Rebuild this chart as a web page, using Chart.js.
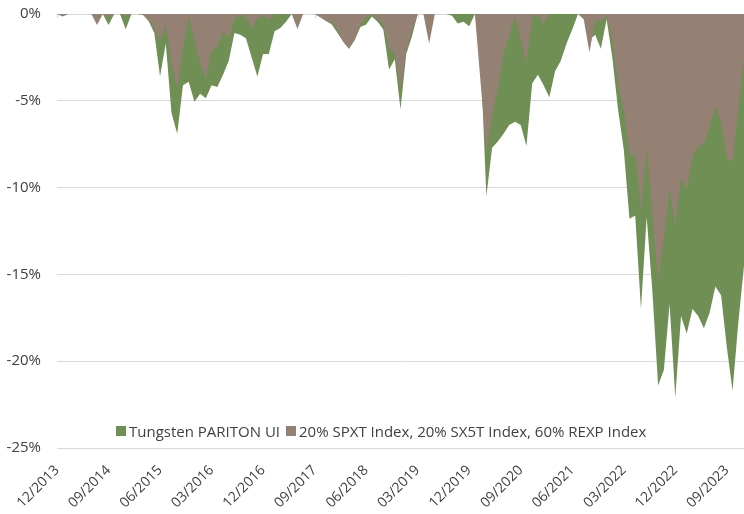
<!DOCTYPE html>
<html>
<head>
<meta charset="utf-8">
<script src="https://cdn.jsdelivr.net/npm/chart.js@4.4.0/dist/chart.umd.min.js"></script>
<style>
  html, body { margin: 0; padding: 0; background: #fff; }
  #wrap { position: relative; width: 744px; height: 514px; }
  #legend {
    position: absolute; left: 116px; top: 421px;
    display: flex; align-items: center;
    font: 15px "Open Sans", sans-serif; color: #404040; white-space: nowrap;
  }
  .item { display: flex; align-items: center; margin-right: 6px; }
  .swatch { width: 10px; height: 10px; margin-right: 3px; }
</style>
</head>
<body>
<div id="wrap">
  <canvas id="chart" width="744" height="514"></canvas>
  <div id="legend"></div>
</div>
<script>
// drawdown in %, monthly from 12/2013
const pariton = [
  0, -0.05, 0, 0, 0, 0, 0, -0.2, 0, -0.63, 0, 0,
  -0.88, 0, 0, -0.05, -0.4, -1.1, -3.6, -1.7, -5.7, -6.9, -4.1, -3.9,
  -5.05, -4.6, -4.85, -4.1, -4.2, -3.5, -2.7, -1.1, -1.2, -1.4, -2.5, -3.6,
  -2.3, -2.3, -1.0, -0.8, -0.45, 0, -0.3, 0, 0, 0, -0.1, -0.4,
  -0.6, -1.1, -1.6, -2.0, -1.5, -0.75, -0.6, -0.15, -0.45, -0.9, -3.2, -2.6,
  -5.5, -2.3, -1.3, 0, 0, -0.3, 0, 0, 0, -0.1, -0.55, -0.45,
  -0.7, 0, -2.5, -10.5, -7.7, -7.35, -6.9, -6.4, -6.2, -6.4, -7.6, -4.0,
  -3.5, -4.1, -4.8, -3.3, -2.7, -1.7, -0.9, 0, 0, -1.5, -1.2, -2.0,
  -0.3, -2.5, -5.5, -7.8, -11.8, -11.6, -17.0, -11.7, -16.0, -21.4, -20.5, -16.7,
  -22.1, -17.4, -18.4, -17.0, -17.4, -18.1, -17.2, -15.7, -16.2, -19.2, -21.7, -17.8,
  -14.5
];
const benchmark = [
  0, -0.15, 0, 0, 0, 0, 0, -0.63, 0, -0.2, 0, 0,
  -0.1, 0, 0, -0.05, -0.3, -0.8, -1.6, -0.6, -2.8, -4.3, -2.0, -0.1,
  -1.5, -2.8, -3.7, -2.1, -1.9, -1.0, -1.4, -0.3, 0, -0.2, -0.8, -0.2,
  -0.1, -0.35, 0, 0, 0, 0, -0.86, 0, 0, 0, -0.2, -0.4,
  -0.5, -0.9, -1.6, -2.0, -1.5, -0.6, -0.2, 0, -0.3, -0.6, -2.0, -2.2,
  -4.3, -2.0, -1.0, 0, 0, -1.7, 0, 0, 0, 0, 0, 0,
  0, 0, -4.0, -7.9, -5.8, -4.3, -2.3, -1.2, -0.15, -1.4, -2.8, -0.2,
  0, -0.6, 0, 0, 0, 0, 0, 0, -0.3, -2.2, -0.4, -0.4,
  -0.1, -1.5, -4.0, -5.5, -8.1, -8.1, -11.3, -7.6, -11.5, -15.3, -13.0, -10.0,
  -12.25, -9.4, -10.1, -8.2, -7.6, -7.5, -6.5, -5.3, -6.3, -8.3, -8.5, -5.5,
  -2.6
];
const seriesNames = ['Tungsten PARITON UI', '20% SPXT Index, 20% SX5T Index, 60% REXP Index'];
const seriesColors = ['#6f8f54', '#958174'];
const tickLabels = ['12/2013', '09/2014', '06/2015', '03/2016', '12/2016', '09/2017', '06/2018',
  '03/2019', '12/2019', '09/2020', '06/2021', '03/2022', '12/2022', '09/2023'];

// month categories MM/YYYY
const months = [];
for (let i = 0; i < pariton.length; i++) {
  const m = (11 + i) % 12 + 1;
  const y = 2013 + Math.floor((11 + i) / 12);
  months.push(String(m).padStart(2, '0') + '/' + y);
}

// small tick marks hanging from the 0% line
const topTicks = {
  id: 'topTicks',
  beforeDatasetsDraw(chart) {
    const { ctx, chartArea, scales } = chart;
    ctx.save();
    ctx.strokeStyle = '#d9d9d9';
    ctx.lineWidth = 1;
    months.forEach((m, i) => {
      if (!tickLabels.includes(m)) return;
      const px = Math.round(scales.x.getPixelForValue(i)) + 0.5;
      ctx.beginPath();
      ctx.moveTo(px, chartArea.top);
      ctx.lineTo(px, chartArea.top + 4);
      ctx.stroke();
    });
    ctx.restore();
  }
};

function draw() {
  Chart.defaults.font.family = '"Open Sans", sans-serif';
  Chart.defaults.color = '#404040';

  const chart = new Chart(document.getElementById('chart'), {
    type: 'line',
    data: {
      labels: months,
      datasets: [
        {
          label: seriesNames[0],
          data: pariton,
          backgroundColor: seriesColors[0],
          borderWidth: 0,
          pointRadius: 0,
          fill: 'origin',
          order: 1
        },
        {
          label: seriesNames[1],
          data: benchmark,
          backgroundColor: seriesColors[1],
          borderWidth: 0,
          pointRadius: 0,
          fill: 'origin',
          order: 0
        }
      ]
    },
    options: {
      responsive: false,
      animation: false,
      layout: { padding: { top: 14, right: 0, left: 0, bottom: 0 } },
      plugins: {
        legend: { display: false },
        tooltip: { enabled: false }
      },
      scales: {
        x: {
          grid: { display: false, drawTicks: false },
          border: { display: false },
          ticks: {
            autoSkip: false,
            maxRotation: 45,
            minRotation: 45,
            padding: 14,
            font: { size: 14 },
            callback: (v, i) => tickLabels.includes(months[i]) ? months[i] : ''
          },
          afterFit: scale => {
            scale.height = 66;
            scale.paddingRight = 0;
            scale.paddingLeft = 0;
          }
        },
        y: {
          min: -25,
          max: 0,
          grid: { color: '#d9d9d9', drawTicks: false },
          border: { display: false },
          ticks: {
            stepSize: 5,
            padding: 16,
            font: { size: 15 },
            callback: v => v + '%'
          },
          afterFit: scale => {
            scale.width = 57;
            scale.paddingTop = 0;
            scale.paddingBottom = 0;
          }
        }
      }
    },
    plugins: [topTicks]
  });

  // legend drawn inside the plot, above the -25% line
  const legend = document.getElementById('legend');
  chart.data.datasets.forEach(ds => {
    const item = document.createElement('span');
    item.className = 'item';
    const sw = document.createElement('span');
    sw.className = 'swatch';
    sw.style.background = ds.backgroundColor;
    item.appendChild(sw);
    item.appendChild(document.createTextNode(ds.label));
    legend.appendChild(item);
  });
}

document.fonts.load('15px "Open Sans"').then(draw, draw);
</script>
</body>
</html>
